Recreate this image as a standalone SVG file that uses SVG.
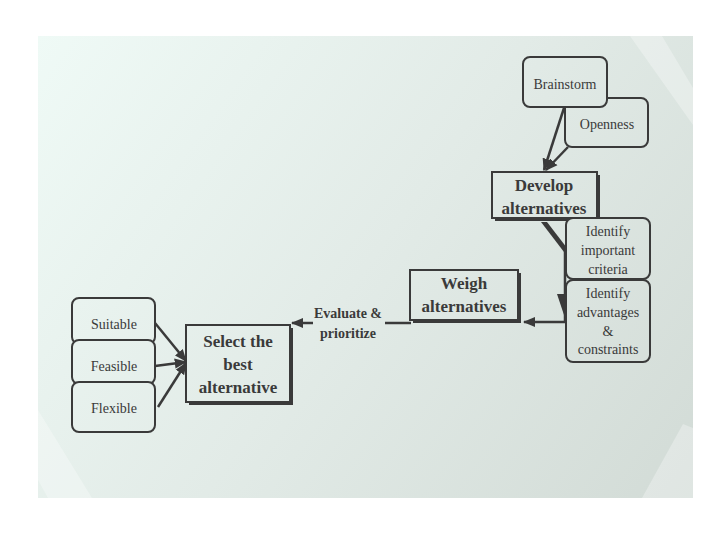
<svg xmlns="http://www.w3.org/2000/svg" width="720" height="540" viewBox="0 0 720 540">
<defs>
<linearGradient id="bg" gradientUnits="userSpaceOnUse" x1="38" y1="36" x2="693" y2="498">
<stop offset="0" stop-color="#effaf6"/>
<stop offset="0.5" stop-color="#e2ebe7"/>
<stop offset="1" stop-color="#d2dbd6"/>
</linearGradient>
<marker id="ah" viewBox="0 0 10 10" refX="9" refY="5" markerWidth="5" markerHeight="5" orient="auto" markerUnits="strokeWidth">
<path d="M0,1 L10,5 L0,9 Z" fill="#3a3a3a"/>
</marker>
<style>
.rb{fill:url(#bg);stroke:#3a3a3a;stroke-width:2}
.bx{fill:url(#bg);stroke:#3a3a3a;stroke-width:2}
.sh{fill:#3a3a3a}
.t{font-family:"Liberation Serif","Times New Roman",serif;font-size:14px;fill:#3a3a3a;text-anchor:middle}
.b{font-family:"Liberation Serif","Times New Roman",serif;font-size:17px;font-weight:bold;fill:#3a3a3a;text-anchor:middle}
.e{font-family:"Liberation Serif","Times New Roman",serif;font-size:14px;font-weight:bold;fill:#3a3a3a;text-anchor:middle}
.c{fill:none;stroke:#3a3a3a;stroke-width:2.5}
</style>
</defs>
<rect width="720" height="540" fill="#ffffff"/>
<rect x="38" y="36" width="655" height="462" fill="url(#bg)"/>
<polygon points="630,36 662,36 693,88 693,125" fill="#ffffff" opacity="0.3"/>
<polygon points="38,410 92,498 48,498 38,480" fill="#ffffff" opacity="0.3"/>
<polygon points="683,424 693,428 693,498 642,498" fill="#ffffff" opacity="0.3"/>

<g id="connectors">
<line class="c" x1="564" y1="108" x2="544" y2="170" marker-end="url(#ah)"/>
<line class="c" x1="568" y1="147" x2="546" y2="170" marker-end="url(#ah)"/>
<polygon points="541,222 547,222 567,248 564,252" fill="#3a3a3a"/>
<path class="c" d="M565,250 L565,322 L524,322" marker-end="url(#ah)"/>
<polygon points="557,294 565,294 565,318" fill="#3a3a3a"/>
<line class="c" x1="411" y1="323" x2="385" y2="323"/>
<line class="c" x1="313" y1="323" x2="292" y2="323" marker-end="url(#ah)"/>
<line class="c" x1="155" y1="323" x2="186" y2="361" marker-end="url(#ah)"/>
<line class="c" x1="155" y1="366" x2="186" y2="362" marker-end="url(#ah)"/>
<line class="c" x1="158" y1="407" x2="186" y2="363" marker-end="url(#ah)"/>
</g>

<g id="openness">
<rect class="rb" x="565" y="98" width="83" height="49" rx="7"/>
<text class="t" x="607" y="129">Openness</text>
</g>
<g id="brainstorm">
<rect class="rb" x="523" y="57" width="84" height="50" rx="7"/>
<text class="t" x="565" y="89">Brainstorm</text>
</g>

<g id="develop">
<rect class="sh" x="495" y="175" width="105" height="46"/>
<rect class="bx" x="492" y="172" width="105" height="46"/>
<text class="b" x="544" y="191">Develop</text>
<text class="b" x="544" y="214">alternatives</text>
</g>

<g id="criteria">
<rect class="rb" x="566" y="218" width="84" height="61" rx="7"/>
<text class="t" x="608" y="236">Identify</text>
<text class="t" x="608" y="255">important</text>
<text class="t" x="608" y="274">criteria</text>
</g>
<g id="advantages">
<rect class="rb" x="566" y="280" width="84" height="82" rx="7"/>
<text class="t" x="608" y="298">Identify</text>
<text class="t" x="608" y="317">advantages</text>
<text class="t" x="608" y="336">&amp;</text>
<text class="t" x="608" y="354">constraints</text>
</g>

<g id="weigh">
<rect class="sh" x="413" y="273" width="108" height="50"/>
<rect class="bx" x="410" y="270" width="108" height="50"/>
<text class="b" x="464" y="289">Weigh</text>
<text class="b" x="464" y="312">alternatives</text>
</g>

<g id="evaluate">
<text class="e" x="348" y="318">Evaluate &amp;</text>
<text class="e" x="348" y="338">prioritize</text>
</g>

<g id="select">
<rect class="sh" x="189" y="328" width="104" height="77"/>
<rect class="bx" x="186" y="325" width="104" height="77"/>
<text class="b" x="238" y="347">Select the</text>
<text class="b" x="238" y="370">best</text>
<text class="b" x="238" y="393">alternative</text>
</g>

<g id="suitable">
<rect class="rb" x="72" y="298" width="83" height="46" rx="7"/>
<text class="t" x="114" y="329">Suitable</text>
</g>
<g id="feasible">
<rect class="rb" x="72" y="340" width="83" height="44" rx="7"/>
<text class="t" x="114" y="371">Feasible</text>
</g>
<g id="flexible">
<rect class="rb" x="72" y="382" width="83" height="50" rx="7"/>
<text class="t" x="114" y="413">Flexible</text>
</g>
</svg>
